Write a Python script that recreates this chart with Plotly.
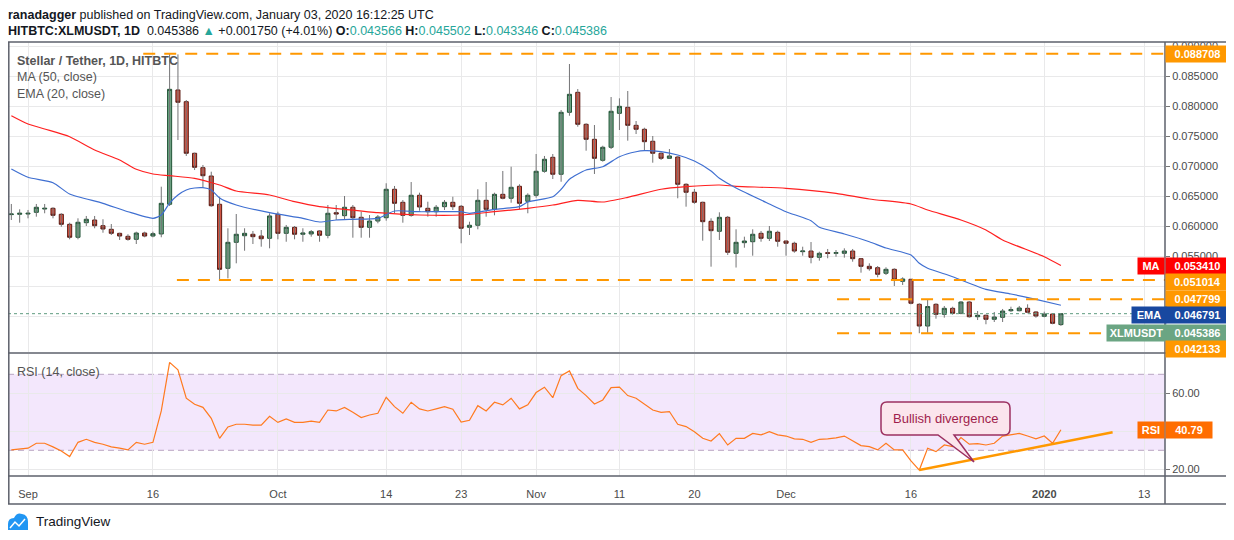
import pandas as pd
import plotly.graph_objects as go

# ---------------- data ----------------
FIRST_DAY = "2019-08-30"
LAST_DAY = "2020-01-03"

OPEN = [
    0.06190, 0.06195, 0.06200, 0.06228, 0.06283, 0.06295, 0.06195, 0.06028, 0.05812, 0.06055,
    0.06100, 0.06005, 0.05945, 0.05878, 0.05828, 0.05778, 0.05883, 0.05833, 0.05867, 0.06362,
    0.08267, 0.08072, 0.07212, 0.06972, 0.06833, 0.06362, 0.05295, 0.05728, 0.05838, 0.05862,
    0.05833, 0.05795, 0.06195, 0.05878, 0.05978, 0.05862, 0.05867, 0.05917, 0.05845, 0.06222,
    0.06172, 0.06312, 0.06145, 0.05978, 0.06083, 0.06138, 0.06612, 0.06395, 0.06178, 0.06512,
    0.06295, 0.06238, 0.06322, 0.06395, 0.06328, 0.05978, 0.06012, 0.06428, 0.06278, 0.06528,
    0.06462, 0.06662, 0.06412, 0.06512, 0.06912, 0.07145, 0.06862, 0.07895, 0.08228, 0.07695,
    0.07445, 0.07095, 0.07312, 0.07878, 0.07978, 0.07678, 0.07612, 0.07412, 0.07212, 0.07128,
    0.07150, 0.06695, 0.06562, 0.06395, 0.06078, 0.05912, 0.06145, 0.05545, 0.05722, 0.05738,
    0.05878, 0.05795, 0.05895, 0.05750, 0.05712, 0.05572, 0.05583, 0.05478, 0.05555, 0.05545,
    0.05545, 0.05583, 0.05455, 0.05328, 0.05305, 0.05212, 0.05278, 0.05078, 0.05112, 0.04695,
    0.04333, 0.04695, 0.04528, 0.04628, 0.04545, 0.04733, 0.04488, 0.04512, 0.04445, 0.04478,
    0.04588, 0.04588, 0.04628, 0.04567, 0.04495, 0.04533, 0.043566,
]
HIGH = [
    0.06367, 0.06278, 0.06267, 0.06367, 0.06367, 0.06312, 0.06212, 0.06055, 0.06128, 0.06167,
    0.06167, 0.06112, 0.06033, 0.05888, 0.05862, 0.05905, 0.05905, 0.05905, 0.06655, 0.08871,
    0.08860, 0.08100, 0.07222, 0.07017, 0.06905, 0.06488, 0.05962, 0.06200, 0.05962, 0.05917,
    0.05933, 0.06212, 0.06238, 0.06017, 0.06000, 0.05962, 0.05933, 0.05933, 0.06350, 0.06350,
    0.06500, 0.06350, 0.06238, 0.06183, 0.06183, 0.06712, 0.06667, 0.06433, 0.06733, 0.06555,
    0.06405, 0.06350, 0.06433, 0.06488, 0.06350, 0.06072, 0.06612, 0.06733, 0.06555, 0.06917,
    0.06988, 0.06695, 0.06545, 0.07200, 0.07167, 0.07200, 0.07933, 0.08700, 0.08283, 0.07712,
    0.07683, 0.07338, 0.08150, 0.08128, 0.08250, 0.07750, 0.07638, 0.07500, 0.07228, 0.07283,
    0.07167, 0.06712, 0.06617, 0.06405, 0.06128, 0.06228, 0.06167, 0.05945, 0.05822, 0.05945,
    0.05917, 0.06000, 0.05922, 0.05750, 0.05738, 0.05655, 0.05733, 0.05572, 0.05617, 0.05600,
    0.05628, 0.05617, 0.05455, 0.05378, 0.05333, 0.05312, 0.05295, 0.05145, 0.05112, 0.04712,
    0.04778, 0.04712, 0.04667, 0.04655, 0.04750, 0.04750, 0.04583, 0.04522, 0.04567, 0.04617,
    0.04655, 0.04667, 0.04695, 0.04583, 0.04572, 0.04545, 0.045502,
]
LOW = [
    0.06100, 0.06055, 0.06128, 0.06155, 0.06212, 0.06128, 0.05988, 0.05778, 0.05778, 0.06000,
    0.05962, 0.05888, 0.05850, 0.05767, 0.05755, 0.05700, 0.05812, 0.05812, 0.05812, 0.06333,
    0.07433, 0.07167, 0.06933, 0.06645, 0.06322, 0.05100, 0.05128, 0.05378, 0.05588, 0.05700,
    0.05655, 0.05628, 0.05778, 0.05738, 0.05778, 0.05738, 0.05822, 0.05738, 0.05795, 0.06100,
    0.06100, 0.05805, 0.05805, 0.05805, 0.06045, 0.06088, 0.06212, 0.06055, 0.06155, 0.06255,
    0.06155, 0.06155, 0.06267, 0.06267, 0.05712, 0.05850, 0.05945, 0.06155, 0.06178, 0.06445,
    0.06388, 0.06278, 0.06212, 0.06472, 0.06888, 0.06783, 0.06738, 0.07838, 0.07655, 0.07255,
    0.06867, 0.07072, 0.07283, 0.07600, 0.07422, 0.07533, 0.07250, 0.07055, 0.07100, 0.07128,
    0.06462, 0.06322, 0.06370, 0.05755, 0.05322, 0.05767, 0.05517, 0.05308, 0.05638, 0.05505,
    0.05738, 0.05750, 0.05655, 0.05505, 0.05555, 0.05505, 0.05378, 0.05422, 0.05462, 0.05488,
    0.05472, 0.05405, 0.05222, 0.05255, 0.05145, 0.05183, 0.05000, 0.05017, 0.04695, 0.04213,
    0.04220, 0.04455, 0.04472, 0.04522, 0.04528, 0.04472, 0.04433, 0.04362, 0.04400, 0.04400,
    0.04567, 0.04578, 0.04545, 0.04472, 0.04478, 0.04362, 0.043346,
]
CLOSE = [
    0.06200, 0.06212, 0.06212, 0.06312, 0.06295, 0.06178, 0.06028, 0.05812, 0.06062, 0.06112,
    0.06005, 0.05950, 0.05878, 0.05833, 0.05778, 0.05883, 0.05833, 0.05872, 0.06378, 0.08278,
    0.08062, 0.07212, 0.06978, 0.06838, 0.06338, 0.05278, 0.05728, 0.05862, 0.05878, 0.05822,
    0.05788, 0.06167, 0.05878, 0.05978, 0.05862, 0.05883, 0.05905, 0.05845, 0.06212, 0.06200,
    0.06312, 0.06138, 0.05978, 0.06083, 0.06150, 0.06612, 0.06378, 0.06178, 0.06512, 0.06317,
    0.06238, 0.06312, 0.06395, 0.06322, 0.05962, 0.06012, 0.06428, 0.06278, 0.06528, 0.06462,
    0.06645, 0.06378, 0.06512, 0.06912, 0.07112, 0.06862, 0.07895, 0.08195, 0.07695, 0.07445,
    0.07128, 0.07312, 0.07912, 0.07995, 0.07678, 0.07612, 0.07405, 0.07212, 0.07128, 0.07167,
    0.06695, 0.06562, 0.06395, 0.06072, 0.05922, 0.06145, 0.05562, 0.05728, 0.05750, 0.05862,
    0.05795, 0.05912, 0.05745, 0.05712, 0.05583, 0.05583, 0.05478, 0.05545, 0.05545, 0.05555,
    0.05583, 0.05455, 0.05328, 0.05288, 0.05195, 0.05278, 0.05100, 0.05117, 0.04712, 0.04333,
    0.04658, 0.04528, 0.04628, 0.04545, 0.04733, 0.04488, 0.04512, 0.04445, 0.04483, 0.04583,
    0.04605, 0.04633, 0.04562, 0.04500, 0.04533, 0.04378, 0.045386,
]
RSI = [
    30.2, 30.6, 31.1, 33.7, 33.7, 31.8, 29.6, 26.7, 34.2, 35.8,
    34.2, 33.2, 31.8, 31.1, 30.2, 34.2, 33.2, 34.2, 50.7, 76.3,
    72.3, 57.4, 54.2, 52.6, 46.8, 36.3, 42.3, 43.7, 43.7, 43.3,
    43.2, 47.9, 44.7, 46.5, 44.7, 44.7, 45.4, 44.7, 51.2, 50.7,
    52.6, 50.0, 47.2, 48.6, 49.5, 57.9, 53.0, 49.5, 55.3, 51.8,
    50.7, 51.8, 53.0, 51.6, 44.9, 45.8, 53.5, 50.7, 55.3, 53.9,
    57.4, 51.8, 53.9, 60.4, 63.2, 57.7, 69.3, 71.8, 62.6, 58.8,
    54.4, 56.5, 63.0, 63.3, 58.8, 57.4, 54.2, 51.2, 50.0, 50.4,
    43.7, 42.5, 39.8, 36.3, 34.9, 38.8, 32.8, 36.3, 36.3, 38.9,
    38.1, 39.8, 38.1, 37.5, 36.0, 35.8, 34.2, 35.8, 36.0, 36.5,
    37.5, 34.9, 32.5, 31.9, 30.2, 33.7, 30.2, 30.2, 24.4, 19.6,
    31.1, 29.3, 32.8, 31.9, 36.7, 33.2, 33.5, 32.8, 33.7, 37.5,
    38.1, 38.9, 37.5, 36.0, 37.5, 33.7, 40.79,
]

MA_DATES = ["2019-08-30", "2019-09-01", "2019-09-03", "2019-09-06", "2019-09-09", "2019-09-12",
            "2019-09-14", "2019-09-16", "2019-09-18", "2019-09-21", "2019-09-24", "2019-09-26",
            "2019-09-30", "2019-10-03", "2019-10-06", "2019-10-09", "2019-10-13", "2019-10-18",
            "2019-10-23", "2019-10-27", "2019-10-31", "2019-11-03", "2019-11-06", "2019-11-09",
            "2019-11-12", "2019-11-16", "2019-11-19", "2019-11-23", "2019-11-25", "2019-12-01",
            "2019-12-07", "2019-12-11", "2019-12-16", "2019-12-18", "2019-12-22", "2019-12-25",
            "2019-12-27", "2020-01-01", "2020-01-03"]
MA_VALUES = [0.07838, 0.07700, 0.07617, 0.07488, 0.07267, 0.07100, 0.06945, 0.06867, 0.06838,
             0.06795, 0.06683, 0.06583, 0.06517, 0.06405, 0.06322, 0.06278, 0.06222, 0.06183,
             0.06183, 0.06238, 0.06295, 0.06350, 0.06428, 0.06400, 0.06478, 0.06612, 0.06655,
             0.06683, 0.06662, 0.06628, 0.06545, 0.06450, 0.06367, 0.06267, 0.06100, 0.05933,
             0.05767, 0.05488, 0.053410]

EMA_DATES = ["2019-08-30", "2019-09-01", "2019-09-04", "2019-09-06", "2019-09-10", "2019-09-13",
             "2019-09-16", "2019-09-17", "2019-09-18", "2019-09-19", "2019-09-20", "2019-09-21",
             "2019-09-22", "2019-09-23", "2019-09-24", "2019-09-26", "2019-09-30", "2019-10-04",
             "2019-10-06", "2019-10-08", "2019-10-10", "2019-10-13", "2019-10-15", "2019-10-18",
             "2019-10-23", "2019-10-24", "2019-10-27", "2019-10-30", "2019-10-31", "2019-11-03",
             "2019-11-04", "2019-11-05", "2019-11-07", "2019-11-09", "2019-11-11", "2019-11-13",
             "2019-11-14", "2019-11-16", "2019-11-18", "2019-11-20", "2019-11-22", "2019-11-23",
             "2019-11-25", "2019-11-29", "2019-12-01", "2019-12-04", "2019-12-05", "2019-12-08",
             "2019-12-11", "2019-12-13", "2019-12-16", "2019-12-17", "2019-12-18", "2019-12-21",
             "2019-12-25", "2019-12-28", "2019-12-31", "2020-01-03"]
EMA_VALUES = [0.06950, 0.06812, 0.06722, 0.06533, 0.06378, 0.06238, 0.06128, 0.06183, 0.06383,
              0.06517, 0.06600, 0.06633, 0.06638, 0.06600, 0.06467, 0.06350, 0.06222, 0.06128,
              0.06067, 0.06100, 0.06112, 0.06128, 0.06250, 0.06238, 0.06238, 0.06212, 0.06278,
              0.06322, 0.06400, 0.06488, 0.06612, 0.06778, 0.06933, 0.06988, 0.07155, 0.07238,
              0.07255, 0.07238, 0.07183, 0.07083, 0.06917, 0.06795, 0.06633, 0.06367, 0.06238,
              0.06088, 0.05978, 0.05867, 0.05738, 0.05633, 0.05517, 0.05378, 0.05295, 0.05155,
              0.04945, 0.04867, 0.04778, 0.046791]

LEVELS = [0.088708, 0.051014, 0.047799, 0.042133]
LEVEL_STARTS = ["2019-09-14 20:00", "2019-09-18 21:00", "2019-12-07 03:00", "2019-12-07 03:00"]

DIV_DATES = ["2019-12-17", "2020-01-09 05:00"]
DIV_RSI = [19.6, 39.5]

PRICE_TICKS = [0.045, 0.050, 0.055, 0.060, 0.065, 0.070, 0.075, 0.080, 0.085, 0.090]
PRICE_TICK_TEXT = ["", "", "0.055000", "0.060000", "0.065000", "0.070000", "0.075000",
                   "0.080000", "0.085000", "0.090000"]
RSI_TICKS = [20, 40, 60]
RSI_TICK_TEXT = ["20.00", "", "60.00"]
TICK_DATES = ["2019-09-01", "2019-09-16", "2019-10-01", "2019-10-14", "2019-10-23", "2019-11-01",
              "2019-11-11", "2019-11-20", "2019-12-01", "2019-12-16", "2020-01-01", "2020-01-13"]
TICK_LABELS = ["Sep", "16", "Oct", "14", "23", "Nov", "11", "20", "Dec", "16", "<b>2020</b>", "13"]

CHANGE = 0.001750
CHANGE_PCT = 4.01

# ---------------- layout geometry (page pixels) ----------------
PAGE_W, PAGE_H = 1234, 540
OFF = 8                      # default body margin of the html page
W, H = PAGE_W - OFF, PAGE_H - OFF
PX_L, PX_R, PX_T, PX_B = 8, 1165, 42, 476
PX_SPLIT_TOP, PX_SPLIT_BOT = 352, 354
DAY0 = pd.Timestamp("2019-09-01")
PX_DAY0, PX_PER_DAY = 28.0, 8.33


def fx(px):
    return (px - PX_L) / (PX_R - PX_L)


def fy(py):
    return (PX_B - py) / (PX_B - PX_T)


def px_to_date(px):
    return (DAY0 + pd.Timedelta(days=(px - PX_DAY0) / PX_PER_DAY)).strftime("%Y-%m-%d %H:%M:%S")


X_RANGE = [px_to_date(PX_L), px_to_date(PX_R)]
PRICE_RANGE = [(586 - PX_SPLIT_TOP) / 6000.0, (586 - PX_T) / 6000.0]
RSI_RANGE = [70 - (PX_B - 374.3) / 1.9, 70 + (374.3 - PX_SPLIT_BOT) / 1.9]

DATES = [d.strftime("%Y-%m-%d") for d in pd.date_range(FIRST_DAY, LAST_DAY, freq="D")]

UP_FILL, UP_LINE = "#6ba583", "#225437"
DN_FILL, DN_LINE = "#d75442", "#5b1a13"
WICK = "#737375"
GRID = "#e9e9ea"
FRAME = "#5d606b"
ORANGE = "#ff9800"
TEAL = "#26a69a"
TXT = "#4a4a4a"
FONT = "Liberation Sans"

fig = go.Figure()

# wicks
wx, wy = [], []
for d, lo, hi in zip(DATES, LOW, HIGH):
    wx += [d, d, None]
    wy += [lo, hi, None]
fig.add_trace(go.Scatter(x=wx, y=wy, mode="lines", line=dict(color=WICK, width=1),
                         hoverinfo="skip", xaxis="x", yaxis="y"))

# bodies
body_hi = [max(o, c) for o, c in zip(OPEN, CLOSE)]
body_lo = [min(o, c) for o, c in zip(OPEN, CLOSE)]
fig.add_trace(go.Candlestick(
    x=DATES, open=OPEN, high=body_hi, low=body_lo, close=CLOSE,
    increasing=dict(fillcolor=UP_FILL, line=dict(color=UP_LINE, width=1)),
    decreasing=dict(fillcolor=DN_FILL, line=dict(color=DN_LINE, width=1)),
    whiskerwidth=0, xaxis="x", yaxis="y", hoverinfo="skip"))

fig.add_trace(go.Scatter(x=MA_DATES, y=MA_VALUES, mode="lines",
                         line=dict(color="#ff2020", width=1.2, shape="spline", smoothing=0.6),
                         xaxis="x", yaxis="y", hoverinfo="skip"))
fig.add_trace(go.Scatter(x=EMA_DATES, y=EMA_VALUES, mode="lines",
                         line=dict(color="#3f6fd1", width=1.2, shape="spline", smoothing=0.6),
                         xaxis="x", yaxis="y", hoverinfo="skip"))

# RSI
fig.add_trace(go.Scatter(x=DATES, y=RSI, mode="lines", line=dict(color="#ff7a1f", width=1.2),
                         xaxis="x2", yaxis="y2", hoverinfo="skip"))
fig.add_trace(go.Scatter(x=DIV_DATES, y=DIV_RSI, mode="lines", line=dict(color=ORANGE, width=2.5),
                         xaxis="x2", yaxis="y2", hoverinfo="skip"))

shapes = []
# RSI band
shapes.append(dict(type="rect", xref="paper", yref="y2", x0=0, x1=1, y0=30, y1=70,
                   fillcolor="#f3e7fc", line=dict(width=0), layer="below"))
for lvl in (30, 70):
    shapes.append(dict(type="line", xref="paper", yref="y2", x0=0, x1=1, y0=lvl, y1=lvl,
                       line=dict(color="#b9a6c2", width=1, dash="6px,4px"), layer="below"))
# horizontal levels
for lvl, start in zip(LEVELS, LEVEL_STARTS):
    shapes.append(dict(type="line", xref="x", yref="y", x0=start, x1=X_RANGE[1], y0=lvl, y1=lvl,
                       line=dict(color=ORANGE, width=2, dash="12px,9px"), layer="above"))
# last price dotted line
shapes.append(dict(type="line", xref="paper", yref="y", x0=0, x1=1, y0=CLOSE[-1], y1=CLOSE[-1],
                   line=dict(color="#5f9b7f", width=1, dash="dot"), layer="above"))


# frame
def hline(py, x0=PX_L, x1=1232):
    return dict(type="line", xref="paper", yref="paper", x0=fx(x0), x1=fx(x1), y0=fy(py), y1=fy(py),
                line=dict(color=FRAME, width=1.5), layer="above")


def vline(px, y0=PX_T, y1=504):
    return dict(type="line", xref="paper", yref="paper", x0=fx(px), x1=fx(px), y0=fy(y0), y1=fy(y1),
                line=dict(color=FRAME, width=1.5), layer="above")


shapes += [hline(PX_T), hline(353), hline(PX_B), hline(504), vline(PX_L + 0.8), vline(PX_R),
           vline(1232)]


# callout
def pp(px, py):
    return f"{fx(px):.5f},{fy(py):.5f}"


bl, br, bt, bb, r = 881, 1010, 402, 435, 6
path = (f"M {pp(bl + r, bt)} L {pp(br - r, bt)} Q {pp(br, bt)} {pp(br, bt + r)} "
        f"L {pp(br, bb - r)} Q {pp(br, bb)} {pp(br - r, bb)} L {pp(954, bb)} L {pp(974, 462)} "
        f"L {pp(938, bb)} L {pp(bl + r, bb)} Q {pp(bl, bb)} {pp(bl, bb - r)} "
        f"L {pp(bl, bt + r)} Q {pp(bl, bt)} {pp(bl + r, bt)} Z")
shapes.append(dict(type="path", xref="paper", yref="paper", path=path, fillcolor="#fbe5ed",
                   line=dict(color="#9c3060", width=1.5), layer="above"))

# TradingView logo
logo = (f"M {pp(8, 530)} L {pp(8, 524)} Q {pp(8, 518)} {pp(14, 518)} Q {pp(17, 512)} {pp(22, 514)} "
        f"Q {pp(28, 515)} {pp(28, 522)} L {pp(28, 530)} Z")
shapes.append(dict(type="path", xref="paper", yref="paper", path=logo, fillcolor="#2196f3",
                   line=dict(width=0), layer="above"))
shapes.append(dict(type="path", xref="paper", yref="paper",
                   path=f"M {pp(10, 528)} L {pp(15, 522)} L {pp(19, 526)} L {pp(25, 519)}",
                   line=dict(color="white", width=1.5), layer="above"))

ann = []


def text(px, py, s, size=12, color=TXT, anchor="left", pad=1):
    ann.append(dict(xref="paper", yref="paper", x=fx(px), y=fy(py), text=s, showarrow=False,
                    xanchor=anchor, yanchor="middle", borderpad=pad,
                    font=dict(size=size, color=color, family=FONT)))


text(7, 15.5, "<b>ranadagger</b> published on TradingView.com, January 03, 2020 16:12:25 UTC",
     size=12.5, color="#131722", pad=0)
sp = lambda v: f"<span style='color:{TEAL}'>{v}</span>"
line2 = (f"<b>HITBTC:XLMUSDT, 1D</b>  {CLOSE[-1]:.6f} {sp('▲')} +{CHANGE:.6f} (+{CHANGE_PCT:.2f}%) "
         f"<b>O:</b>{sp(f'{OPEN[-1]:.6f}')} <b>H:</b>{sp(f'{HIGH[-1]:.6f}')} "
         f"<b>L:</b>{sp(f'{LOW[-1]:.6f}')} <b>C:</b>{sp(f'{CLOSE[-1]:.6f}')}")
text(7, 30.5, line2, size=12.5, color="#131722", pad=0)
text(15, 61, "<b>Stellar / Tether, 1D, HITBTC</b>", size=12.5, color="#555555")
text(15, 77, "MA (50, close)", size=12.5, color="#555555")
text(15, 94, "EMA (20, close)", size=12.5, color="#555555")
text(15, 372, "RSI (14, close)", size=12.5, color="#555555")
text(34, 521, "TradingView", size=13.5, color="#131722")
text(945.5, 418.5, "Bullish divergence", size=13, color="#a01d4c", anchor="center")


def tag(value, s, color, yshift=0, yref="y", left=PX_R, width=63):
    ann.append(dict(xref="paper", yref=yref, x=fx(left), y=value, yshift=yshift, text=f"<b>{s}</b>",
                    showarrow=False, xanchor="left", yanchor="middle", width=width - 4, height=12,
                    borderpad=2, bgcolor=color, align="center", valign="middle",
                    font=dict(size=11, color="white", family=FONT)))


tag(LEVELS[0], f"{LEVELS[0]:.6f}", ORANGE, 0)
tag(MA_VALUES[-1], f"{MA_VALUES[-1]:.6f}", "#ff0000", 0)
tag(MA_VALUES[-1], "MA", "#ff0000", 0, left=1137, width=26)
tag(LEVELS[1], f"{LEVELS[1]:.6f}", ORANGE, -2)
tag(LEVELS[2], f"{LEVELS[2]:.6f}", ORANGE, 0)
tag(EMA_VALUES[-1], f"{EMA_VALUES[-1]:.6f}", "#1848a0", -10)
tag(EMA_VALUES[-1], "EMA", "#1848a0", -10, left=1131, width=34)
tag(CLOSE[-1], f"{CLOSE[-1]:.6f}", UP_FILL, -19.5)
tag(CLOSE[-1], "XLMUSDT", UP_FILL, -19.5, left=1106, width=59)
tag(LEVELS[3], f"{LEVELS[3]:.6f}", ORANGE, -16)
tag(RSI[-1], f"{RSI[-1]:.2f}", "#ff6d00", 0, yref="y2", width=46)
tag(RSI[-1], "RSI", "#ff6d00", 0, yref="y2", left=1137, width=26)

split = fy(PX_SPLIT_TOP)
split2 = fy(PX_SPLIT_BOT)
fig.update_layout(
    width=W, height=H, autosize=False,
    margin=dict(l=PX_L - OFF, r=PAGE_W - PX_R, t=PX_T - OFF, b=PAGE_H - PX_B, pad=0),
    paper_bgcolor="white", plot_bgcolor="white", showlegend=False,
    font=dict(family=FONT, size=11, color=TXT),
    xaxis=dict(domain=[0, 1], anchor="y", type="date", range=X_RANGE, tickvals=TICK_DATES,
               showticklabels=False, showgrid=True, gridcolor=GRID, zeroline=False,
               rangeslider=dict(visible=False), ticks="", showline=False),
    xaxis2=dict(domain=[0, 1], anchor="y2", type="date", matches="x", range=X_RANGE,
                tickvals=TICK_DATES, ticktext=TICK_LABELS, showgrid=True, gridcolor=GRID,
                zeroline=False, ticks="outside", ticklen=8, tickcolor="rgba(0,0,0,0)",
                tickfont=dict(size=11, color=TXT), showline=False),
    yaxis=dict(domain=[split, 1], anchor="x", side="right", range=PRICE_RANGE,
               tickvals=PRICE_TICKS, ticktext=PRICE_TICK_TEXT, ticks="outside", ticklen=4,
               tickcolor="#777777", tickfont=dict(size=11, color=TXT), showgrid=True,
               gridcolor=GRID, zeroline=False, showline=False),
    yaxis2=dict(domain=[0, split2], anchor="x2", side="right", range=RSI_RANGE,
                tickvals=RSI_TICKS, ticktext=RSI_TICK_TEXT, ticks="outside", ticklen=4,
                tickcolor="#777777", tickfont=dict(size=11, color=TXT), showgrid=True,
                gridcolor=GRID, zeroline=False, showline=False),
    shapes=shapes, annotations=ann,
)

fig.write_html("out.html")
